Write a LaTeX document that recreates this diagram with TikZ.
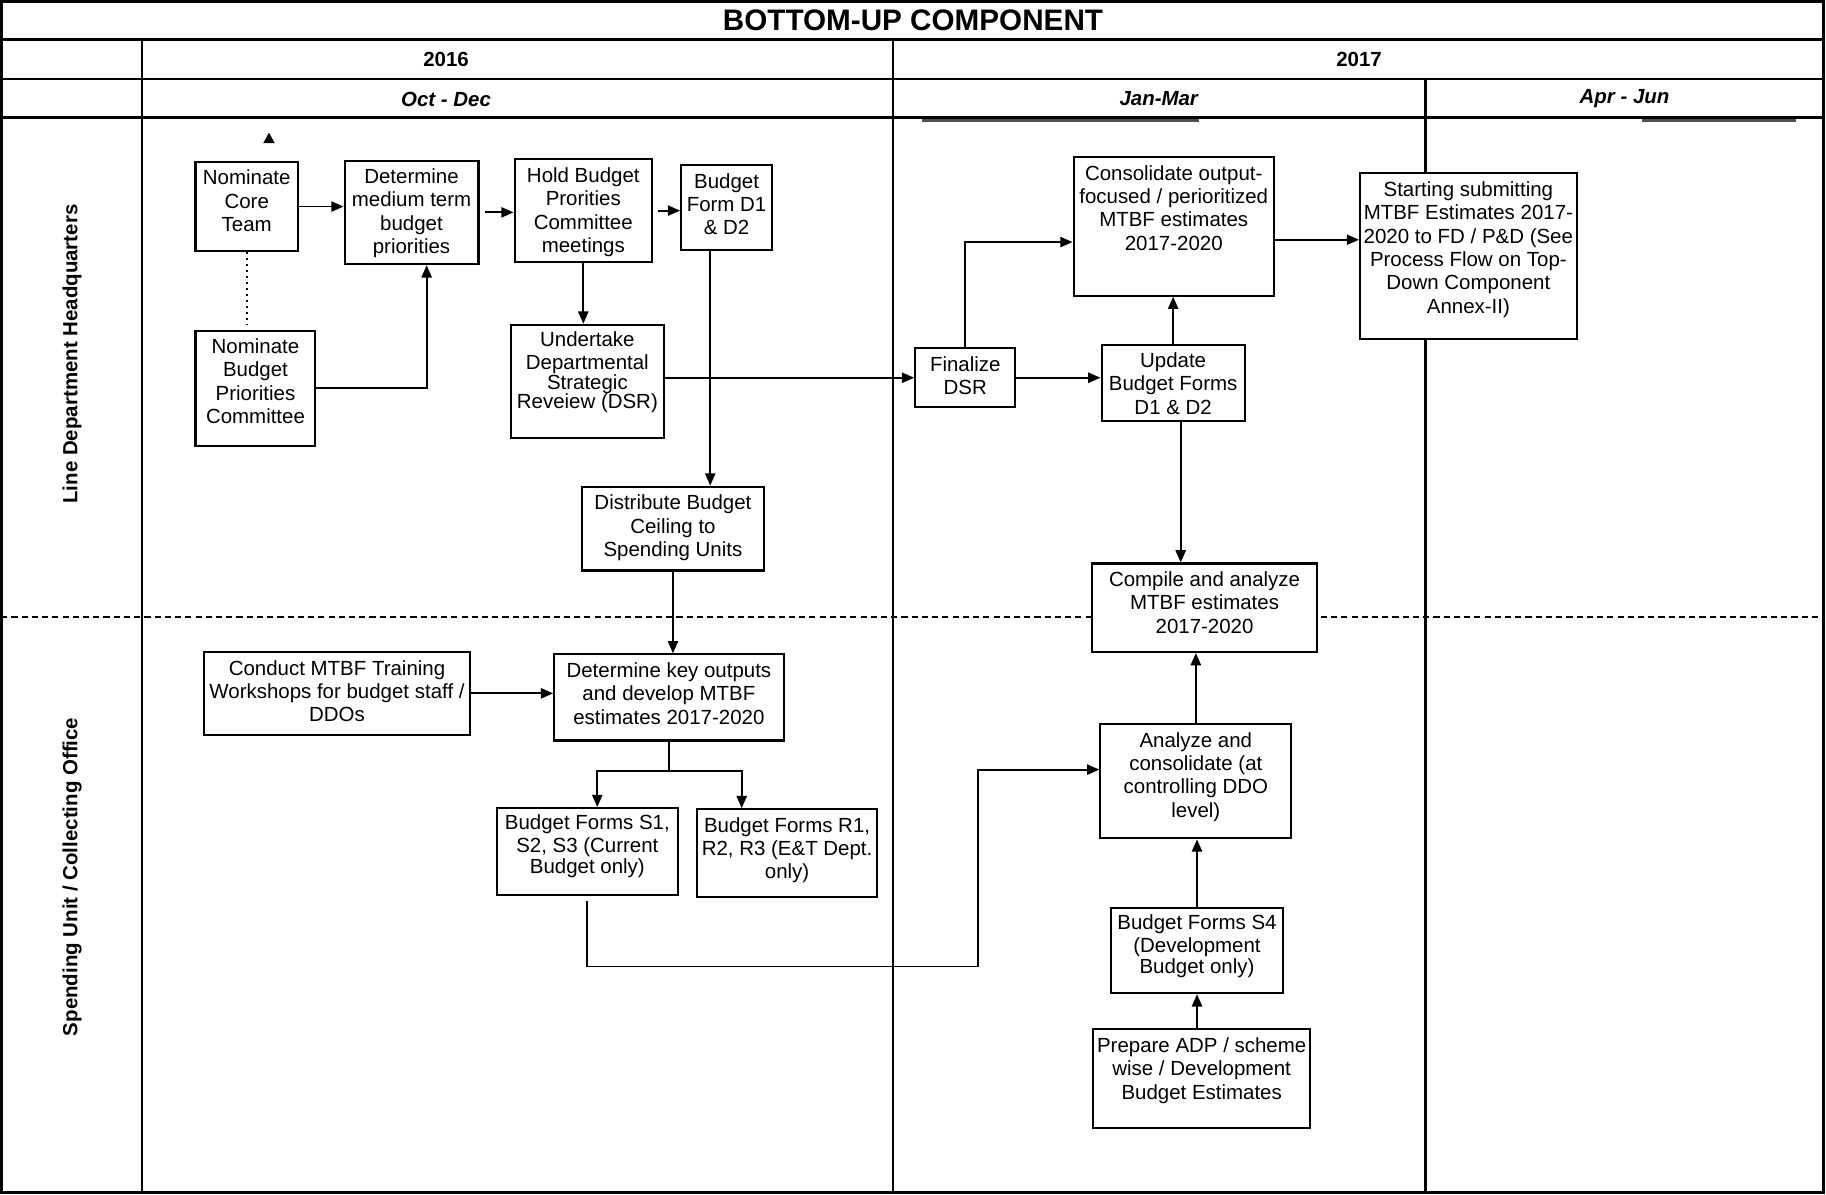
\documentclass[tikz,border=0pt]{standalone}
\usepackage{fontspec}
\setmainfont{Liberation Sans}
\usepackage{tikz}
\usetikzlibrary{arrows.meta}
\definecolor{mydark}{RGB}{0,0,0}
\definecolor{mygrey}{RGB}{80,80,80}
\newdimen\pxu
\pxu=0.02cm
\tikzset{
  box/.style n args={2}{draw=mydark, line width=1pt, fill=white, anchor=north west,
    inner xsep=0pt, inner ysep=3.3pt, font=\fontsize{10}{11.4}\selectfont,
    execute at begin node={\begin{minipage}[t][\dimexpr#2\pxu-6.6pt\relax][t]{#1\pxu}\centering\strut},
    execute at end node={\end{minipage}}},
  tight/.style={font=\fontsize{10}{9.1}\selectfont},
  snug/.style={font=\fontsize{10}{9.7}\selectfont},
  arrow/.style={-{Triangle[length=6pt,width=5pt]}, line width=0.9pt, color=mydark},
  line/.style={line width=0.9pt, color=mydark},
  frameline/.style={line width=1.1pt, color=mydark},
  outerline/.style={line width=1.6pt, color=mydark},
  titletext/.style={font=\fontsize{14.5}{17}\selectfont\bfseries},
  hdr/.style={font=\fontsize{10}{12}\selectfont\bfseries},
  month/.style={font=\fontsize{10}{12}\selectfont\bfseries\itshape},
  lane/.style={font=\fontsize{10}{12}\selectfont\bfseries, rotate=90}
}

\begin{document}
\begin{tikzpicture}[x=0.02cm, y=-0.02cm]
  \useasboundingbox (0,0) rectangle (1568,1026);

  % table frame
  \draw[frameline] (1,34) -- (1566,34);
  \draw[frameline] (1,68) -- (1566,68);
  \draw[frameline] (1,101) -- (1566,101);
  \draw[frameline] (122,34) -- (122,1024);
  \draw[frameline] (767,34) -- (767,1024);
  \draw[frameline] (1224,68) -- (1224,1024);
  \draw[line, line width=0.8pt, dash pattern=on 3pt off 2pt] (1,530) -- (1566,530);
  \draw[line width=1.3pt, mygrey] (792,103.5) -- (1030,103.5);
  \draw[line width=1.3pt, mygrey] (1410,103.5) -- (1542,103.5);
  \draw[outerline] (1,1) rectangle (1566,1024);
  \fill[mydark] (226,123) -- (236,123) -- (231,114) -- cycle;

  % headings
  \node[titletext] (title) at (784,17) {BOTTOM-UP COMPONENT};
  \node[hdr] (yearone) at (383,51) {2016};
  \node[hdr] (yeartwo) at (1167,51) {2017};
  \node[month] (octdec) at (383,85) {Oct - Dec};
  \node[month] (janmar) at (995,85) {Jan-Mar};
  \node[month] (aprjun) at (1395,85) {Apr - Jun};
  \node[lane] (lanehq) at (62,304) {Line Department Headquarters};
  \node[lane] (lanesu) at (62,753) {Spending Unit / Collecting Office};

  % line department headquarters
  \node[box={88}{77}] (coreteam) at (167,138) {Nominate\\Core\\Team};
  \node[box={115}{89}] (medterm) at (295,137) {Determine\\medium term\\budget\\priorities};
  \node[box={118}{88}] (holdmeet) at (441,136) {Hold Budget\\Prorities\\Committee\\meetings};
  \node[box={78}{73}] (formd) at (584,141) {Budget\\Form D1\\\& D2};
  \node[box={103}{99}] (nombpc) at (167,283) {Nominate\\Budget\\Priorities\\Committee};
  \node[box={131}{97}, snug] (dsr) at (438,278) {Undertake\\Departmental\\Strategic\\Reveiew (DSR)};
  \node[box={156}{72}] (ceiling) at (499,417) {Distribute Budget\\Ceiling to\\Spending Units};
  \node[box={86}{51}] (finaldsr) at (785,298) {Finalize\\DSR};
  \node[box={123}{66}] (updated) at (945,295) {Update\\Budget Forms\\D1 \& D2};
  \node[box={172}{119}] (consol) at (921,134) {Consolidate output-\\focused / perioritized\\MTBF estimates\\2017-2020};
  \node[box={186}{142}] (submit) at (1167,148) {Starting submitting\\MTBF Estimates 2017-\\2020 to FD / P\&D (See\\Process Flow on Top-\\Down Component\\Annex-II)};
  \node[box={193}{76}] (compile) at (937,483) {Compile and analyze\\MTBF estimates\\2017-2020};

  % spending unit / collecting office
  \node[box={229}{71}] (training) at (174,559) {Conduct MTBF Training\\Workshops for budget staff /\\DDOs};
  \node[box={197}{74}] (keyout) at (475,561) {Determine key outputs\\and develop MTBF\\estimates 2017-2020};
  \node[box={155}{75}, tight] (formss) at (426,693) {Budget Forms S1,\\S2, S3 (Current\\Budget only)};
  \node[box={154}{75}] (formsr) at (598,694) {Budget Forms R1,\\R2, R3 (E\&T Dept.\\only)};
  \node[box={164}{98}] (analyze) at (944,621) {Analyze and\\consolidate (at\\controlling DDO\\level)};
  \node[box={148}{73}, tight] (formsfour) at (953,779) {Budget Forms S4\\(Development\\Budget only)};
  \node[box={186}{85}] (prepare) at (938,883) {Prepare ADP / scheme\\wise / Development\\Budget Estimates};

  % connectors
  \draw[arrow] (coreteam.east) -- (coreteam.east -| medterm.west);
  \draw[arrow] ([xshift=0.1cm]medterm.east) -- (medterm.east -| holdmeet.west);
  \draw[arrow] ([xshift=0.08cm]holdmeet.east) -- (holdmeet.east -| formd.west);
  \draw[line, dotted] (coreteam.south) -- (coreteam.south |- nombpc.north);
  \draw[arrow] (nombpc.east) -| ([xshift=0.26cm]medterm.south);
  \draw[arrow] (holdmeet.south) -- (holdmeet.south |- dsr.north);
  \draw[arrow] ([xshift=-0.28cm]formd.south) -- ([xshift=-0.28cm]formd.south |- ceiling.north);
  \draw[arrow] (dsr.east |- finaldsr.west) -- (finaldsr.west);
  \draw[arrow] (finaldsr.east) -- (finaldsr.east -| updated.west);
  \draw[arrow] (finaldsr.north) |- ([yshift=-0.27cm]consol.west);
  \draw[arrow] (updated.north) -- (updated.north |- consol.south);
  \draw[arrow] ([yshift=-0.23cm]consol.east) -- ([yshift=-0.23cm]consol.east -| submit.west);
  \draw[arrow] ([xshift=0.13cm]updated.south) -- ([xshift=0.13cm]updated.south |- compile.north);
  \draw[arrow] (ceiling.south) -- (ceiling.south |- keyout.north);
  \draw[arrow] (training.east) -- (training.east -| keyout.west);
  \coordinate (split) at ([yshift=-0.5cm]keyout.south);
  \draw[line] (keyout.south) -- (split);
  \draw[arrow] (split) -| ([xshift=0.17cm]formss.north);
  \draw[arrow] (split) -| ([xshift=-0.78cm]formsr.north);
  \coordinate (jog) at (840,830);
  \draw[arrow] ([yshift=-0.08cm]formss.south) |- (jog) |- ([yshift=0.2cm]analyze.west);
  \draw[arrow] (analyze.north) -- (analyze.north |- compile.south);
  \draw[arrow] (formsfour.north) -- (formsfour.north |- analyze.south);
  \draw[arrow] (prepare.north -| formsfour.south) -- (formsfour.south);
\end{tikzpicture}
\end{document}
